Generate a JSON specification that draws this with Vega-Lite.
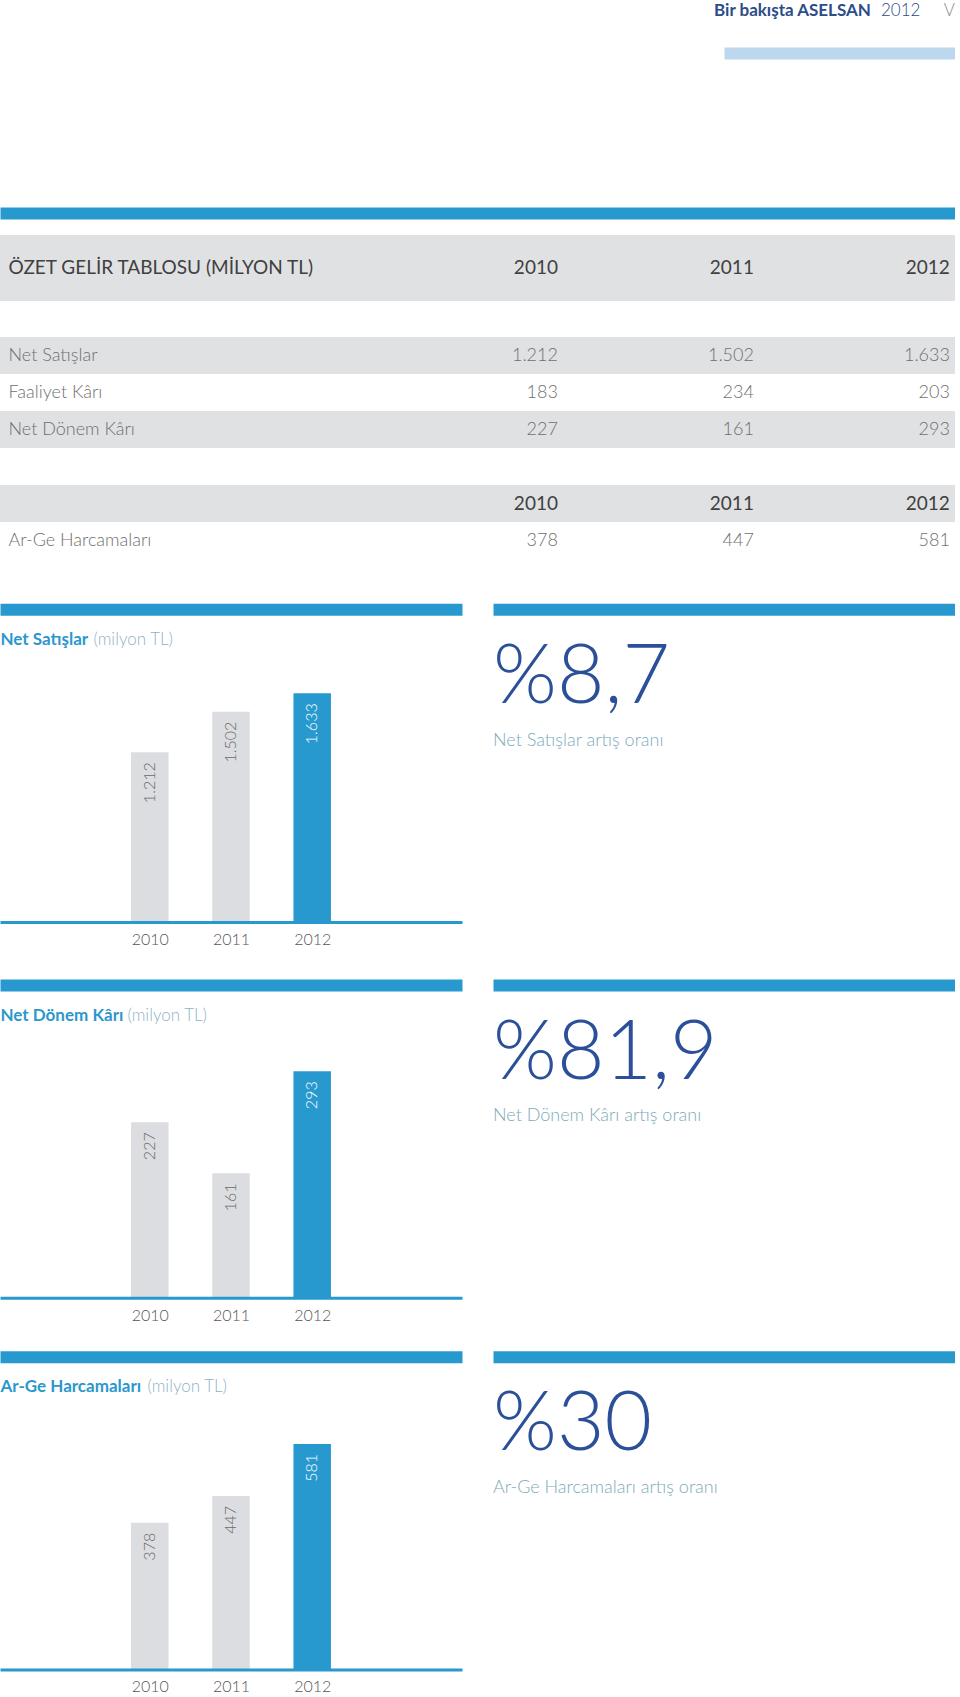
{
  "$schema": "https://vega.github.io/schema/vega-lite/v6.json",
  "padding": 0,
  "background": "#ffffff",
  "config": {
    "font": "Lato",
    "view": {"stroke": null},
    "axis": {"labelFont": "Lato", "titleFont": "Lato", "grid": false},
    "text": {"font": "Lato"}
  },
  "datasets": {
    "finance": [
      {"metric": "Net Satışlar", "year": 2010, "value": 1212},
      {"metric": "Net Satışlar", "year": 2011, "value": 1502},
      {"metric": "Net Satışlar", "year": 2012, "value": 1633},
      {"metric": "Faaliyet Kârı", "year": 2010, "value": 183},
      {"metric": "Faaliyet Kârı", "year": 2011, "value": 234},
      {"metric": "Faaliyet Kârı", "year": 2012, "value": 203},
      {"metric": "Net Dönem Kârı", "year": 2010, "value": 227},
      {"metric": "Net Dönem Kârı", "year": 2011, "value": 161},
      {"metric": "Net Dönem Kârı", "year": 2012, "value": 293},
      {"metric": "Ar-Ge Harcamaları", "year": 2010, "value": 378},
      {"metric": "Ar-Ge Harcamaları", "year": 2011, "value": 447},
      {"metric": "Ar-Ge Harcamaları", "year": 2012, "value": 581}
    ],
    "growth": [
      {"metric": "Net Satışlar", "growth": 8.7},
      {"metric": "Net Dönem Kârı", "growth": 81.9},
      {"metric": "Ar-Ge Harcamaları", "growth": 30}
    ],
    "header": [{"part": "Bir bakışta ASELSAN"}, {"part": "2012"}, {"part": "V"}],
    "tabletitle": [{"title": "ÖZET GELİR TABLOSU (MİLYON TL)"}]
  },
  "spacing": 148,
  "vconcat": [
    {
      "width": 955, "height": 59,
      "data": {"name": "header"},
      "layer": [
        {
          "transform": [{"filter": "datum.part === 'Bir bakışta ASELSAN'"}],
          "mark": {"type": "text", "align": "right", "baseline": "middle", "fontSize": 17, "fontWeight": "bold", "color": "#2c4d87"},
          "encoding": {
            "x": {"field": "part", "type": "nominal", "scale": {"type": "point", "range": [724, 955], "padding": 0, "align": 0.636}, "axis": null},
            "y": {"datum": "header", "type": "nominal", "scale": {"type": "point", "padding": 0, "align": 0.186}, "axis": null},
            "text": {"field": "part"}
          }
        },
        {
          "transform": [{"filter": "datum.part === '2012'"}],
          "mark": {"type": "text", "align": "left", "baseline": "middle", "fontSize": 17, "fontWeight": 300, "color": "#2c4d87"},
          "encoding": {
            "x": {"field": "part", "type": "nominal", "scale": {"type": "point", "range": [724, 955], "padding": 0, "align": 0.6797}, "axis": null},
            "y": {"datum": "header", "type": "nominal", "scale": {"type": "point", "padding": 0, "align": 0.186}, "axis": null},
            "text": {"field": "part"}
          }
        },
        {
          "transform": [{"filter": "datum.part === 'V'"}],
          "mark": {"type": "text", "align": "right", "baseline": "middle", "fontSize": 17, "fontWeight": 300, "color": "#8c8c8c"},
          "encoding": {
            "x": {"field": "part", "type": "nominal", "scale": {"type": "point", "range": [724, 955], "padding": 0, "align": 1},
                  "axis": {"orient": "bottom", "offset": -6, "domainColor": "#bcd7ee", "domainWidth": 12, "ticks": false, "tickSize": 0, "labels": false, "title": null}},
            "y": {"datum": "header", "type": "nominal", "scale": {"type": "point", "padding": 0, "align": 0.186}, "axis": null},
            "text": {"field": "part"}
          }
        }
      ],
      "resolve": {"scale": {"x": "independent"}, "axis": {"x": "independent"}}
    },
    {
      "spacing": 36,
      "vconcat": [
        {
          "width": 955, "height": 94,
          "layer": [
            {
              "data": {"name": "tabletitle"},
              "mark": {"type": "rect", "color": "#e0e1e3"},
              "encoding": {
                "y": {"field": "title", "type": "nominal", "scale": {"paddingInner": 0, "paddingOuter": 0.212, "align": 1},
                      "axis": {"orient": "left", "domain": false, "ticks": false, "tickSize": 0, "labelPadding": -8, "labelAlign": "left", "labelBaseline": "middle", "labelFontSize": 19, "labelFontWeight": "normal", "labelColor": "#404040", "labelLimit": 0, "title": null, "zindex": 1}}
              }
            },
            {
              "data": {"name": "finance"},
              "transform": [{"filter": "datum.metric === 'Net Satışlar'"}],
              "mark": {"type": "text", "align": "right", "baseline": "middle", "fontSize": 19, "fontWeight": "normal", "color": "#404040"},
              "encoding": {
                "x": {"field": "year", "type": "quantitative", "scale": {"domain": [2007.153, 2012.026], "nice": false, "zero": false},
                      "axis": {"orient": "top", "offset": -6, "domainColor": "#2899cf", "domainWidth": 12, "ticks": false, "tickSize": 0, "labels": false, "grid": false, "title": null}},
                "y": {"datum": "ÖZET GELİR TABLOSU (MİLYON TL)", "type": "nominal", "axis": null},
                "text": {"field": "year", "type": "ordinal"}
              }
            }
          ],
          "resolve": {"axis": {"y": "independent"}}
        },
        {
          "spacing": 37,
          "vconcat": [
            {
              "width": 955, "height": 111,
              "data": {"name": "finance"},
              "transform": [
                {"filter": "datum.metric !== 'Ar-Ge Harcamaları'"},
                {"calculate": "replace(format(datum.value, ',d'), ',', '.')", "as": "label"}
              ],
              "layer": [
                {
                  "transform": [{"filter": "datum.metric !== 'Faaliyet Kârı'"}],
                  "mark": {"type": "rect", "color": "#e0e1e3"},
                  "encoding": {
                    "y": {"field": "metric", "type": "nominal", "scale": {"domain": ["Net Satışlar", "Faaliyet Kârı", "Net Dönem Kârı"], "paddingInner": 0, "paddingOuter": 0}, "axis": null}
                  }
                },
                {
                  "mark": {"type": "text", "align": "right", "baseline": "middle", "fontSize": 18, "fontWeight": 300, "color": "#6f6f6f"},
                  "encoding": {
                    "x": {"field": "year", "type": "quantitative", "scale": {"domain": [2007.153, 2012.026], "nice": false, "zero": false}, "axis": null},
                    "y": {"field": "metric", "type": "nominal", "scale": {"domain": ["Net Satışlar", "Faaliyet Kârı", "Net Dönem Kârı"], "paddingInner": 0, "paddingOuter": 0},
                          "axis": {"orient": "left", "domain": false, "ticks": false, "tickSize": 0, "labelPadding": -8, "labelAlign": "left", "labelBaseline": "middle", "labelFontSize": 18, "labelFontWeight": 300, "labelColor": "#6f6f6f", "labelLimit": 0, "title": null, "zindex": 1}},
                    "text": {"field": "label"}
                  }
                }
              ],
              "resolve": {"axis": {"y": "independent"}}
            },
            {
              "spacing": 44.3,
              "vconcat": [
                {
                  "width": 955, "height": 74,
                  "data": {"name": "finance"},
                  "transform": [
                    {"filter": "datum.metric === 'Ar-Ge Harcamaları'"},
                    {"calculate": "replace(format(datum.value, ',d'), ',', '.')", "as": "label"}
                  ],
                  "layer": [
                    {
                      "mark": {"type": "rect", "color": "#e0e1e3"},
                      "encoding": {
                        "y": {"datum": "header", "type": "nominal", "scale": {"domain": ["header", "Ar-Ge Harcamaları"], "paddingInner": 0, "paddingOuter": 0}, "axis": null}
                      }
                    },
                    {
                      "mark": {"type": "text", "align": "right", "baseline": "middle", "fontSize": 19, "fontWeight": "normal", "color": "#404040"},
                      "encoding": {
                        "x": {"field": "year", "type": "quantitative", "scale": {"domain": [2007.153, 2012.026], "nice": false, "zero": false}, "axis": null},
                        "y": {"datum": "header", "type": "nominal", "scale": {"domain": ["header", "Ar-Ge Harcamaları"], "paddingInner": 0, "paddingOuter": 0}, "axis": null},
                        "text": {"field": "year", "type": "ordinal"}
                      }
                    },
                    {
                      "mark": {"type": "text", "align": "right", "baseline": "middle", "fontSize": 18, "fontWeight": 300, "color": "#6f6f6f"},
                      "encoding": {
                        "x": {"field": "year", "type": "quantitative", "scale": {"domain": [2007.153, 2012.026], "nice": false, "zero": false}, "axis": null},
                        "y": {"field": "metric", "type": "nominal", "scale": {"domain": ["header", "Ar-Ge Harcamaları"], "paddingInner": 0, "paddingOuter": 0},
                              "axis": {"orient": "left", "domain": false, "ticks": false, "tickSize": 0, "labelPadding": -8, "labelAlign": "left", "labelBaseline": "middle", "labelFontSize": 18, "labelFontWeight": 300, "labelColor": "#6f6f6f", "labelLimit": 0, "title": null, "zindex": 1, "labelExpr": "datum.value === 'header' ? '' : datum.value"}},
                        "text": {"field": "label"}
                      }
                    }
                  ],
                  "resolve": {"axis": {"y": "independent"}}
                },
                {
                  "spacing": 29.7,
                  "vconcat": [
                    {
                      "spacing": 31,
                      "hconcat": [
                        {
                          "width": 462, "height": 346,
                          "data": {"name": "finance"},
                          "transform": [
                            {"filter": "datum.metric === 'Net Satışlar'"},
                            {"calculate": "replace(format(datum.value, ',d'), ',', '.')", "as": "label"}
                          ],
                          "layer": [
                            {
                              "mark": {"type": "bar", "width": 37.5},
                              "encoding": {
                                "x": {"field": "year", "type": "quantitative", "scale": {"domain": [2008.217, 2013.783], "nice": false, "zero": false},
                                      "axis": {"orient": "bottom", "offset": -27.25, "values": [2010, 2011, 2012], "format": "d", "labelFlush": false, "labelOverlap": false, "domainColor": "#2899cf", "domainWidth": 3, "ticks": false, "tickSize": 0, "labelPadding": 17.25, "labelBaseline": "middle", "labelAngle": 0, "labelFontSize": 16, "labelFontWeight": 300, "labelColor": "#555555", "grid": false, "title": null, "zindex": 1}},
                                "y": {"field": "value", "type": "quantitative", "scale": {"domain": [-194.5, 2275.5], "nice": false, "zero": false},
                                      "axis": {"title": "(milyon TL)", "domain": false, "ticks": false, "labels": false, "grid": false, "titleAngle": 0, "titleX": 93, "titleY": 36, "titleAlign": "left", "titleBaseline": "middle", "titleFontSize": 17, "titleFontWeight": 300, "titleColor": "#8fb3c6"}},
                                "y2": {"datum": 0},
                                "color": {"condition": {"test": "datum.year === 2012", "value": "#2899cf"}, "value": "#dcdde0"}
                              }
                            },
                            {
                              "mark": {"type": "text", "angle": 270, "align": "right", "baseline": "middle", "dx": -10, "fontSize": 16, "fontWeight": 300},
                              "encoding": {
                                "x": {"field": "year", "type": "quantitative", "scale": {"domain": [2008.217, 2013.783], "nice": false, "zero": false},
                                      "axis": {"orient": "top", "offset": -6, "domainColor": "#2899cf", "domainWidth": 12, "ticks": false, "tickSize": 0, "labels": false, "grid": false, "title": "Net Satışlar", "titleX": 0, "titleY": 30, "titleAngle": 0, "titleAlign": "left", "titleBaseline": "middle", "titleFontSize": 17, "titleFontWeight": "bold", "titleColor": "#2c97cc"}},
                                "y": {"field": "value", "type": "quantitative", "scale": {"domain": [-194.5, 2275.5], "nice": false, "zero": false}, "axis": null},
                                "text": {"field": "label"},
                                "color": {"condition": {"test": "datum.year === 2012", "value": "#ffffff"}, "value": "#6a6a6a"}
                              }
                            }
                          ],
                          "resolve": {"axis": {"x": "independent", "y": "independent"}}
                        },
                        {
                          "width": 462, "height": 242,
                          "data": {"name": "growth"},
                          "transform": [
                            {"filter": "datum.metric === 'Net Satışlar'"},
                            {"calculate": "'%' + replace(format(datum.growth, '.1~f'), '.', ',')", "as": "glabel"},
                            {"calculate": "datum.metric + ' artış oranı'", "as": "caption"}
                          ],
                          "layer": [
                            {
                              "mark": {"type": "text", "align": "left", "baseline": "alphabetic", "fontSize": 82, "fontWeight": 300, "color": "#2b4f98"},
                              "encoding": {
                                "x": {"field": "metric", "type": "nominal", "scale": {"type": "point", "padding": 0, "align": 0},
                                      "axis": {"orient": "top", "offset": -6, "domainColor": "#2899cf", "domainWidth": 12, "ticks": false, "tickSize": 0, "labels": false, "title": null}},
                                "y": {"datum": "value", "type": "nominal", "scale": {"type": "point", "domain": ["value", "caption"], "range": [99.75, 142.25], "padding": 0}, "axis": null},
                                "text": {"field": "glabel"}
                              }
                            },
                            {
                              "mark": {"type": "text", "align": "left", "baseline": "alphabetic", "fontSize": 18, "fontWeight": 300, "color": "#7eaabb"},
                              "encoding": {
                                "x": {"field": "metric", "type": "nominal", "scale": {"type": "point", "padding": 0, "align": 0}, "axis": null},
                                "y": {"datum": "caption", "type": "nominal", "scale": {"type": "point", "domain": ["value", "caption"], "range": [99.75, 142.25], "padding": 0}, "axis": null},
                                "text": {"field": "caption"}
                              }
                            }
                          ],
                          "resolve": {"axis": {"x": "independent"}}
                        }
                      ]
                    },
                    {
                      "spacing": 25.7,
                      "vconcat": [
                        {
                          "spacing": 31,
                          "hconcat": [
                            {
                              "width": 462, "height": 346,
                              "data": {"name": "finance"},
                              "transform": [
                                {"filter": "datum.metric === 'Net Dönem Kârı'"},
                                {"calculate": "replace(format(datum.value, ',d'), ',', '.')", "as": "label"}
                              ],
                              "layer": [
                                {
                                  "mark": {"type": "bar", "width": 37.5},
                                  "encoding": {
                                    "x": {"field": "year", "type": "quantitative", "scale": {"domain": [2008.217, 2013.783], "nice": false, "zero": false},
                                          "axis": {"orient": "bottom", "offset": -27.25, "values": [2010, 2011, 2012], "format": "d", "labelFlush": false, "labelOverlap": false, "domainColor": "#2899cf", "domainWidth": 3, "ticks": false, "tickSize": 0, "labelPadding": 17.25, "labelBaseline": "middle", "labelAngle": 0, "labelFontSize": 16, "labelFontWeight": 300, "labelColor": "#555555", "grid": false, "title": null, "zindex": 1}},
                                    "y": {"field": "value", "type": "quantitative", "scale": {"domain": [-35.25, 412.4], "nice": false, "zero": false},
                                          "axis": {"title": "(milyon TL)", "domain": false, "ticks": false, "labels": false, "grid": false, "titleAngle": 0, "titleX": 127, "titleY": 36, "titleAlign": "left", "titleBaseline": "middle", "titleFontSize": 17, "titleFontWeight": 300, "titleColor": "#8fb3c6"}},
                                    "y2": {"datum": 0},
                                    "color": {"condition": {"test": "datum.year === 2012", "value": "#2899cf"}, "value": "#dcdde0"}
                                  }
                                },
                                {
                                  "mark": {"type": "text", "angle": 270, "align": "right", "baseline": "middle", "dx": -10, "fontSize": 16, "fontWeight": 300},
                                  "encoding": {
                                    "x": {"field": "year", "type": "quantitative", "scale": {"domain": [2008.217, 2013.783], "nice": false, "zero": false},
                                          "axis": {"orient": "top", "offset": -6, "domainColor": "#2899cf", "domainWidth": 12, "ticks": false, "tickSize": 0, "labels": false, "grid": false, "title": "Net Dönem Kârı", "titleX": 0, "titleY": 30, "titleAngle": 0, "titleAlign": "left", "titleBaseline": "middle", "titleFontSize": 17, "titleFontWeight": "bold", "titleColor": "#2c97cc"}},
                                    "y": {"field": "value", "type": "quantitative", "scale": {"domain": [-35.25, 412.4], "nice": false, "zero": false}, "axis": null},
                                    "text": {"field": "label"},
                                    "color": {"condition": {"test": "datum.year === 2012", "value": "#ffffff"}, "value": "#6a6a6a"}
                                  }
                                }
                              ],
                              "resolve": {"axis": {"x": "independent", "y": "independent"}}
                            },
                            {
                              "width": 462, "height": 242,
                              "data": {"name": "growth"},
                              "transform": [
                                {"filter": "datum.metric === 'Net Dönem Kârı'"},
                                {"calculate": "'%' + replace(format(datum.growth, '.1~f'), '.', ',')", "as": "glabel"},
                                {"calculate": "datum.metric + ' artış oranı'", "as": "caption"}
                              ],
                              "layer": [
                                {
                                  "mark": {"type": "text", "align": "left", "baseline": "alphabetic", "fontSize": 82, "fontWeight": 300, "color": "#2b4f98"},
                                  "encoding": {
                                    "x": {"field": "metric", "type": "nominal", "scale": {"type": "point", "padding": 0, "align": 0},
                                          "axis": {"orient": "top", "offset": -6, "domainColor": "#2899cf", "domainWidth": 12, "ticks": false, "tickSize": 0, "labels": false, "title": null}},
                                    "y": {"datum": "value", "type": "nominal", "scale": {"type": "point", "domain": ["value", "caption"], "range": [99.75, 142.25], "padding": 0}, "axis": null},
                                    "text": {"field": "glabel"}
                                  }
                                },
                                {
                                  "mark": {"type": "text", "align": "left", "baseline": "alphabetic", "fontSize": 18, "fontWeight": 300, "color": "#7eaabb"},
                                  "encoding": {
                                    "x": {"field": "metric", "type": "nominal", "scale": {"type": "point", "padding": 0, "align": 0}, "axis": null},
                                    "y": {"datum": "caption", "type": "nominal", "scale": {"type": "point", "domain": ["value", "caption"], "range": [99.75, 142.25], "padding": 0}, "axis": null},
                                    "text": {"field": "caption"}
                                  }
                                }
                              ],
                              "resolve": {"axis": {"x": "independent"}}
                            }
                          ]
                        },
                        {
                          "spacing": 31,
                          "hconcat": [
                            {
                              "width": 462, "height": 346,
                              "data": {"name": "finance"},
                              "transform": [
                                {"filter": "datum.metric === 'Ar-Ge Harcamaları'"},
                                {"calculate": "replace(format(datum.value, ',d'), ',', '.')", "as": "label"}
                              ],
                              "layer": [
                                {
                                  "mark": {"type": "bar", "width": 37.5},
                                  "encoding": {
                                    "x": {"field": "year", "type": "quantitative", "scale": {"domain": [2008.217, 2013.783], "nice": false, "zero": false},
                                          "axis": {"orient": "bottom", "offset": -27.25, "values": [2010, 2011, 2012], "format": "d", "labelFlush": false, "labelOverlap": false, "domainColor": "#2899cf", "domainWidth": 3, "ticks": false, "tickSize": 0, "labelPadding": 17.25, "labelBaseline": "middle", "labelAngle": 0, "labelFontSize": 16, "labelFontWeight": 300, "labelColor": "#555555", "grid": false, "title": null, "zindex": 1}},
                                    "y": {"field": "value", "type": "quantitative", "scale": {"domain": [-70.2, 821.5], "nice": false, "zero": false},
                                          "axis": {"title": "(milyon TL)", "domain": false, "ticks": false, "labels": false, "grid": false, "titleAngle": 0, "titleX": 147, "titleY": 36, "titleAlign": "left", "titleBaseline": "middle", "titleFontSize": 17, "titleFontWeight": 300, "titleColor": "#8fb3c6"}},
                                    "y2": {"datum": 0},
                                    "color": {"condition": {"test": "datum.year === 2012", "value": "#2899cf"}, "value": "#dcdde0"}
                                  }
                                },
                                {
                                  "mark": {"type": "text", "angle": 270, "align": "right", "baseline": "middle", "dx": -10, "fontSize": 16, "fontWeight": 300},
                                  "encoding": {
                                    "x": {"field": "year", "type": "quantitative", "scale": {"domain": [2008.217, 2013.783], "nice": false, "zero": false},
                                          "axis": {"orient": "top", "offset": -6, "domainColor": "#2899cf", "domainWidth": 12, "ticks": false, "tickSize": 0, "labels": false, "grid": false, "title": "Ar-Ge Harcamaları", "titleX": 0, "titleY": 30, "titleAngle": 0, "titleAlign": "left", "titleBaseline": "middle", "titleFontSize": 17, "titleFontWeight": "bold", "titleColor": "#2c97cc"}},
                                    "y": {"field": "value", "type": "quantitative", "scale": {"domain": [-70.2, 821.5], "nice": false, "zero": false}, "axis": null},
                                    "text": {"field": "label"},
                                    "color": {"condition": {"test": "datum.year === 2012", "value": "#ffffff"}, "value": "#6a6a6a"}
                                  }
                                }
                              ],
                              "resolve": {"axis": {"x": "independent", "y": "independent"}}
                            },
                            {
                              "width": 462, "height": 242,
                              "data": {"name": "growth"},
                              "transform": [
                                {"filter": "datum.metric === 'Ar-Ge Harcamaları'"},
                                {"calculate": "'%' + replace(format(datum.growth, '.1~f'), '.', ',')", "as": "glabel"},
                                {"calculate": "datum.metric + ' artış oranı'", "as": "caption"}
                              ],
                              "layer": [
                                {
                                  "mark": {"type": "text", "align": "left", "baseline": "alphabetic", "fontSize": 82, "fontWeight": 300, "color": "#2b4f98"},
                                  "encoding": {
                                    "x": {"field": "metric", "type": "nominal", "scale": {"type": "point", "padding": 0, "align": 0},
                                          "axis": {"orient": "top", "offset": -6, "domainColor": "#2899cf", "domainWidth": 12, "ticks": false, "tickSize": 0, "labels": false, "title": null}},
                                    "y": {"datum": "value", "type": "nominal", "scale": {"type": "point", "domain": ["value", "caption"], "range": [99.75, 142.25], "padding": 0}, "axis": null},
                                    "text": {"field": "glabel"}
                                  }
                                },
                                {
                                  "mark": {"type": "text", "align": "left", "baseline": "alphabetic", "fontSize": 18, "fontWeight": 300, "color": "#7eaabb"},
                                  "encoding": {
                                    "x": {"field": "metric", "type": "nominal", "scale": {"type": "point", "padding": 0, "align": 0}, "axis": null},
                                    "y": {"datum": "caption", "type": "nominal", "scale": {"type": "point", "domain": ["value", "caption"], "range": [99.75, 142.25], "padding": 0}, "axis": null},
                                    "text": {"field": "caption"}
                                  }
                                }
                              ],
                              "resolve": {"axis": {"x": "independent"}}
                            }
                          ]
                        }
                      ]
                    }
                  ]
                }
              ]
            }
          ]
        }
      ]
    }
  ]
}
